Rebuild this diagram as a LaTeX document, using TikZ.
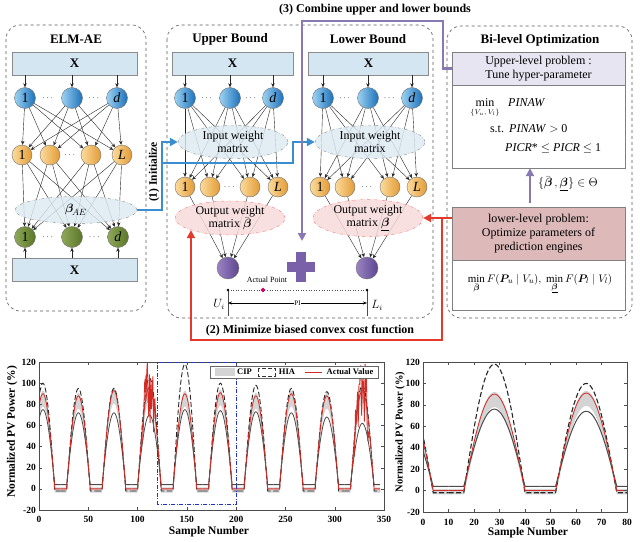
\documentclass[tikz,border=0pt]{standalone}
\usepackage{amsmath}
\usepackage{fontspec}
\setmainfont{Liberation Serif}
\usetikzlibrary{shapes.geometric,arrows.meta,calc}
\definecolor{boxblue}{HTML}{D5E6F3}
\definecolor{nodeblueL}{HTML}{9CD2F4}
\definecolor{nodeblueD}{HTML}{1C70B8}
\definecolor{orangeL}{HTML}{FCDC9C}
\definecolor{orangeD}{HTML}{E29A36}
\definecolor{greenL}{HTML}{8FA85A}
\definecolor{greenD}{HTML}{5B7628}
\definecolor{purpL}{HTML}{9A84C4}
\definecolor{purpD}{HTML}{5E4590}
\definecolor{purp}{HTML}{7A60A8}
\definecolor{ellblue}{HTML}{DCEAF2}
\definecolor{ellpink}{HTML}{F7DADA}
\definecolor{arrblue}{HTML}{3A8ED0}
\definecolor{arrred}{HTML}{E5392B}
\definecolor{arrpurp}{HTML}{8A78B2}
\definecolor{hdrlav}{HTML}{E7E5F1}
\definecolor{hdrpink}{HTML}{DDB9B9}
\definecolor{cipgray}{HTML}{D4D4D4}
\definecolor{actred}{HTML}{D42A24}
\definecolor{zoomblue}{HTML}{2233CC}
\begin{document}
\begin{tikzpicture}[x=1pt,y=-1pt,
  declare function={hump(\t,\a,\n)=\n+(\a-\n)*cos(7.5*\t)*(abs(\t)<12);},
  panel/.style={draw=black!65, dashed, rounded corners=14pt, line width=0.6pt},
  title/.style={font=\fontsize{13}{13}\selectfont\bfseries},
  xbox/.style={draw=black!45, fill=boxblue, minimum width=#1, minimum height=23pt, inner sep=0pt, font=\fontsize{13}{13}\selectfont\bfseries},
  neuron/.style={circle, draw=black!55, minimum size=21pt, inner sep=0pt, font=\fontsize{14}{14}\selectfont},
  bn/.style={neuron, left color=nodeblueL, right color=nodeblueD},
  on/.style={neuron, minimum size=20pt, left color=orangeL, right color=orangeD},
  gn/.style={neuron, left color=greenL, right color=greenD},
  pn/.style={neuron, minimum size=22pt, left color=purpL, right color=purpD},
  dots/.style={inner sep=0pt, font=\small},
  conn/.style={-{Stealth[length=4pt,width=3.5pt]}, line width=0.4pt, black!85},
  ellB/.style={ellipse, draw=black!45, dash dot, fill=ellblue, fill opacity=0.82, text opacity=1, inner sep=0pt, align=center, font=\fontsize{12}{13}\selectfont},
  ellR/.style={ellipse, draw=red!55, dash dot, fill=ellpink, fill opacity=0.82, text opacity=1, inner sep=0pt, align=center, font=\fontsize{12}{13}\selectfont},
  bigarr/.style={line width=2.6pt, -{Triangle[length=8pt,width=8pt]}},
  hdr/.style={draw=black!50, minimum width=173pt, inner sep=0pt, align=center, font=\fontsize{12}{14}\selectfont},
  txt/.style={inner sep=0pt, font=\fontsize{12}{14}\selectfont},
  tick/.style={inner sep=1pt, font=\fontsize{9.5}{10}\selectfont\bfseries},
  axlab/.style={inner sep=0pt, font=\fontsize{11.5}{12}\selectfont\bfseries},
  upline/.style={black!85, line width=0.9pt, dash pattern=on 5pt off 2.5pt},
  lowline/.style={black!70, line width=0.8pt},
  actline/.style={actred, line width=0.8pt},
]
\useasboundingbox (0,0) rectangle (640,541);
\fill[white] (0,0) rectangle (640,541);

% ---------------- panels
\draw[panel] (6,25) rectangle (146,311);
\draw[panel] (167,25) rectangle (433,318);
\draw[panel] (447,26) rectangle (632,318);

% ---------------- ELM-AE
\node[title] (tE) at (76,39) {ELM-AE};
\node[xbox=125pt] (eX1) at (74.5,63.5) {X};
\node[bn] (eb1) at (25,98) {1};
\node[bn] (eb2) at (72,98) {};
\node[bn] (eb3) at (117,98) {\textit{d}};
\node[dots] (ed1) at (48.5,98) {$\cdots$};
\node[dots] (ed2) at (94.5,98) {$\cdots$};
\node[on] (eo1) at (22,155) {1};
\node[on] (eo2) at (50,155) {};
\node[on] (eo3) at (91,155) {};
\node[on] (eo4) at (122,155) {\textit{L}};
\node[dots] (ed3) at (70.5,155) {$\cdots$};
\node[gn] (eg1) at (25,237) {1};
\node[gn] (eg2) at (72,237) {};
\node[gn] (eg3) at (118,237) {\textit{d}};
\node[dots] (ed4) at (48.5,237) {$\cdots$};
\node[dots] (ed5) at (95,237) {$\cdots$};
\node[xbox=125pt] (eX2) at (74.5,270) {X};
\foreach \n in {eb1,eb2,eb3} \draw[conn] (eX1.south -| \n) -- (\n);
\foreach \n in {eg1,eg2,eg3} \draw[conn] (eX2.north -| \n) -- (\n);
\foreach \a in {eb1,eb2,eb3} \foreach \b in {eo1,eo2,eo3,eo4} \draw[conn] (\a) -- (\b);
\foreach \a in {eo1,eo2,eo3,eo4} \foreach \b in {eg1,eg2,eg3} \draw[conn] (\a) -- (\b);
\node[ellB, minimum width=122pt, minimum height=27pt, font=\fontsize{13}{13}\selectfont] (eAE) at (76,210) {$\boldsymbol{\beta}_{\!AE}$};

% ---------------- Upper / lower bound
\node[title] (tU) at (230,39) {Upper Bound};
\node[title] (tL) at (368,39) {Lower Bound};
\node[xbox=121pt] (uX) at (232.5,63.5) {X};
\node[xbox=120pt] (lX) at (368.5,63.5) {X};
\node[bn] (ub1) at (185,98) {1};
\node[bn] (ub2) at (230,98) {};
\node[bn] (ub3) at (273,98) {\textit{d}};
\node[dots] (ud1) at (207.5,98) {$\cdots$};
\node[dots] (ud2) at (251.5,98) {$\cdots$};
\node[on] (uo1) at (185,187) {1};
\node[on] (uo2) at (210,187) {};
\node[on] (uo3) at (250,187) {};
\node[on] (uo4) at (278,187) {\textit{L}};
\node[dots] (ud3) at (230,187) {$\cdots$};
\node[pn] (up) at (228,268) {};
\node[bn] (lb1) at (323,98) {1};
\node[bn] (lb2) at (368,98) {};
\node[bn] (lb3) at (412,98) {\textit{d}};
\node[dots] (ld1) at (345.5,98) {$\cdots$};
\node[dots] (ld2) at (390,98) {$\cdots$};
\node[on] (lo1) at (320,187) {1};
\node[on] (lo2) at (345,187) {};
\node[on] (lo3) at (390,187) {};
\node[on] (lo4) at (417,187) {\textit{L}};
\node[dots] (ld3) at (367.5,187) {$\cdots$};
\node[pn] (lp) at (367,268) {};
\foreach \n in {ub1,ub2,ub3} \draw[conn] (uX.south -| \n) -- (\n);
\foreach \n in {lb1,lb2,lb3} \draw[conn] (lX.south -| \n) -- (\n);
\foreach \a in {ub1,ub2,ub3} \foreach \b in {uo1,uo2,uo3,uo4} \draw[conn] (\a) -- (\b);
\foreach \a in {lb1,lb2,lb3} \foreach \b in {lo1,lo2,lo3,lo4} \draw[conn] (\a) -- (\b);
\foreach \a in {uo1,uo2,uo3,uo4} \draw[conn] (\a) -- (up);
\foreach \a in {lo1,lo2,lo3,lo4} \draw[conn] (\a) -- (lp);
\node[ellB, minimum width=110pt, minimum height=33pt] (uin) at (233,142) {Input weight\\matrix};
\node[ellB, minimum width=110pt, minimum height=33pt] (lin) at (370,142) {Input weight\\matrix};
\node[ellR, minimum width=110pt, minimum height=34pt] (uout) at (230,218) {Output weight\\matrix $\bar{\boldsymbol{\beta}}$};
\node[ellR, minimum width=110pt, minimum height=34pt] (lout) at (368,218) {Output weight\\matrix $\underline{\boldsymbol{\beta}}$};

% plus sign
\fill[purp] (287,262) rectangle (315,272);
\fill[purp] (296,252) rectangle (306,282);

% PI construction
\coordinate (uA) at (228,290);
\coordinate (lA) at (367,290);
\coordinate (uB) at (228,316);
\coordinate (lB) at (367,316);
\draw[black!70, line width=0.5pt] (uA) -- (uB);
\draw[black!70, line width=0.5pt] (lA) -- (lB);
\draw[black!70, dotted, line width=0.6pt] (uA) -- (lA);
\fill[black] (uA) circle (1.4);
\fill[black] (lA) circle (1.4);
\node[diamond, fill=purple!70!magenta, draw=purple, inner sep=0pt, minimum size=4.5pt] (ap) at (263,290) {};
\node[inner sep=0pt, font=\fontsize{8}{8}\selectfont] (apt) at (267,280) {Actual Point};
\coordinate (uC) at (228,303);
\coordinate (lC) at (367,303);
\draw[{Stealth[length=4pt]}-{Stealth[length=4pt]}, line width=0.5pt] (uC) -- (lC) node[midway, fill=white, inner sep=0.5pt, font=\fontsize{7}{7}\selectfont] {PI};
\node[inner sep=0pt, font=\fontsize{12}{12}\selectfont] (Ui) at (219,304) {$U_i$};
\node[inner sep=0pt, font=\fontsize{12}{12}\selectfont] (Li) at (377,305) {$L_i$};

% ---------------- Bi-level optimization
\node[title] (tB) at (540,40) {Bi-level Optimization};
\node[hdr, fill=hdrlav, minimum height=33pt] (uh) at (538.5,68.5) {Upper-level problem :\\Tune hyper-parameter};
\node[hdr, minimum height=83pt] (ubody) at (538.5,126.5) {};
\node[txt, anchor=base] (mn1) at (485,106) {min};
\node[txt, anchor=base west] (pn1) at (508,106) {\textit{PINAW}};
\node[inner sep=0pt, font=\fontsize{7}{7}\selectfont] (sb1) at (485,113) {$\{V_u,V_l\}$};
\node[txt, anchor=base] (st) at (497,132) {s.t.};
\node[txt, anchor=base west] (c1) at (509,132) {\textit{PINAW} $>$ 0};
\node[txt, anchor=base west] (c2) at (505,151) {\textit{PICR}* $\le$ \textit{PICR} $\le$ 1};
\node[hdr, fill=hdrpink, minimum height=53pt] (lh) at (538.5,233.5) {lower-level problem:\\Optimize parameters of\\prediction engines};
\node[hdr, minimum height=50pt] (lbody) at (538.5,285) {};
\node[inner sep=0pt, font=\fontsize{11}{12}\selectfont] (lm) at (540,284) {$\displaystyle\min_{\bar{\boldsymbol{\beta}}} F(\boldsymbol{P}_{\!u}\mid V_u),\ \min_{\underline{\boldsymbol{\beta}}} F(\boldsymbol{P}_{\!l}\mid V_l)$};
\coordinate (pa1) at (530,203);
\draw[arrpurp, line width=2.6pt, -{Triangle[length=8pt,width=8pt]}] (pa1) -- (ubody.south -| pa1);
\node[inner sep=0pt, font=\fontsize{12}{12}\selectfont] (theta) at (568,184) {$\{\bar{\boldsymbol{\beta}}\,,\underline{\boldsymbol{\beta}}\}\in\Theta$};

% ---------------- big arrows
% (1) initialize
\draw[arrblue, bigarr] (eAE.east) -- (162,210) |- (uin.west);
\coordinate (bj) at (162,163);
\draw[arrblue, bigarr] (bj) -- (293,163) |- (lin.west);
\node[rotate=90, inner sep=0pt, font=\fontsize{11.5}{12}\selectfont\bfseries] (init) at (154,172) {(1) Initialize};
% (3) combine
\coordinate (pc) at (302,21);
\coordinate (ptip) at (302,241);
\draw[arrpurp, bigarr] (uh.west) -- (443,68.5) |- (pc) -- (ptip);
\node[inner sep=0pt, font=\fontsize{12}{12}\selectfont\bfseries] (t3) at (375,10) {(3) Combine upper and lower bounds};
% (2) minimize
\coordinate (rs) at (452,218);
\coordinate (rj) at (442,218);
\draw[arrred, bigarr] (rs) -- (lout.east);
\draw[arrred, bigarr] (rj) -- (442,340) -| (uout.south west);
\node[inner sep=0pt, font=\fontsize{12}{12}\selectfont\bfseries] (t2) at (310,331) {(2) Minimize biased convex cost function};

% ---------------- left chart
\pgfmathsetseed{11}
\begin{scope}[shift={(39,488.86)},xscale=0.98571,yscale=-1.05714]
 \begin{scope}
  \clip (0,-20) rectangle (350,120);
  \foreach \p/\au/\ar/\al in {4/100/90/75,40/95/88/72,76/95/93/72,112/105/96/70,148/118/90/75,184/100/91/74,220/98/88/73,256/95/90/72,292/92/88/68,328/98/93/62}{
   \fill[cipgray] plot[domain=\p-18:\p+18,samples=37] (\x,{hump(\x-\p,\ar+3,1.5)}) -- plot[domain=\p+18:\p-18,samples=37] (\x,{hump(\x-\p,\ar-12,-3.5)}) -- cycle;
  }
  \foreach \p/\au/\ar/\al in {4/100/90/75,40/95/88/72,76/95/93/72,112/105/96/70,148/118/90/75,184/100/91/74,220/98/88/73,256/95/90/72,292/92/88/68,328/98/93/62}{
   \draw[lowline] plot[domain=\p-18:\p+18,samples=37] (\x,{hump(\x-\p,\al,4)});
   \draw[upline] plot[domain=\p-18:\p+18,samples=37] (\x,{hump(\x-\p,\au,-2)});
   \draw[actline] plot[domain=\p-18:\p+18,samples=37] (\x,{hump(\x-\p,\ar,0)});
  }
  \foreach \p in {112,328}{
   \draw[actline] plot[domain=\p-9:\p+7,samples=24] (\x,{hump(\x-\p,95,0)*(1+0.4*rand)});
  }
 \end{scope}
 \draw[black!70, line width=0.6pt] (0,-20) rectangle (350,120);
 \foreach \v in {50,100,...,300}{\draw[black!70] (\v,-20) -- (\v,-17); \draw[black!70] (\v,120) -- (\v,117);}
 \foreach \v in {0,20,...,100}{\draw[black!70] (0,\v) -- (3,\v); \draw[black!70] (350,\v) -- (347,\v);}
 \draw[zoomblue, line width=1.2pt, dash pattern=on 4pt off 1.5pt on 1pt off 1.5pt] (120,-15) rectangle (200,119.5);
\end{scope}
\foreach \v in {0,50,...,350} \node[tick] at ({39+\v*0.98571},519) {\v};
\foreach \v in {-20,0,...,120} \node[tick, anchor=east] at (37,{488.86-\v*1.05714}) {\v};
\node[axlab] (xl1) at (209,532) {Sample Number};
\node[axlab, rotate=90] (yl1) at (12,432) {Normalized PV Power (\%)};
% legend
\node[draw=black!60, fill=white, minimum width=168pt, minimum height=12pt, inner sep=0pt] (leg) at (294,372) {};
\fill[cipgray] (215,368) rectangle (235,376);
\node[inner sep=0pt, font=\fontsize{8.5}{9}\selectfont\bfseries] (lg1) at (244.5,372) {CIP};
\draw[black!80, line width=0.8pt, dash pattern=on 4pt off 2pt] (258,368) rectangle (275,376);
\node[inner sep=0pt, font=\fontsize{8.5}{9}\selectfont\bfseries] (lg2) at (287,372) {HIA};
\draw[actline] (305,372) -- (322,372);
\node[inner sep=0pt, font=\fontsize{8.5}{9}\selectfont\bfseries] (lg3) at (350,372) {Actual Value};

% ---------------- right chart
\begin{scope}[shift={(423,490.57)},xscale=2.55,yscale=-1.07143]
 \begin{scope}
  \clip (0,-20) rectangle (80,120);
  \foreach \p/\au/\ar/\al in {-8/105/95/70,28/118/90/76,64/100/91/74}{
   \fill[cipgray] plot[domain=\p-18:\p+18,samples=73] (\x,{hump(\x-\p,\ar+2,1.5)}) -- plot[domain=\p+18:\p-18,samples=73] (\x,{hump(\x-\p,\ar-12,-3.5)}) -- cycle;
  }
  \foreach \p/\au/\ar/\al in {-8/105/95/70,28/118/90/76,64/100/91/74}{
   \draw[lowline, line width=1pt] plot[domain=\p-18:\p+18,samples=73] (\x,{hump(\x-\p,\al,4)});
   \draw[upline, line width=1.1pt] plot[domain=\p-18:\p+18,samples=73] (\x,{hump(\x-\p,\au,-2)});
   \draw[actline] plot[domain=\p-18:\p+18,samples=73] (\x,{hump(\x-\p,\ar,0)});
  }
 \end{scope}
 \draw[black!70, line width=0.6pt] (0,-20) rectangle (80,120);
 \foreach \v in {10,20,...,70}{\draw[black!70] (\v,-20) -- (\v,-17); \draw[black!70] (\v,120) -- (\v,117);}
 \foreach \v in {0,20,...,100}{\draw[black!70] (0,\v) -- (1.2,\v); \draw[black!70] (80,\v) -- (78.8,\v);}
\end{scope}
\foreach \v in {0,10,...,80} \node[tick] at ({423+\v*2.55},522) {\v};
\foreach \v in {-20,0,...,120} \node[tick, anchor=east] at (421,{490.57-\v*1.07143}) {\v};
\node[axlab] (xl2) at (528,533) {Sample Number};
\node[axlab, rotate=90, font=\fontsize{10.5}{11}\selectfont\bfseries] (yl2) at (400,432) {Normalized PV Power (\%)};
\end{tikzpicture}
\end{document}
